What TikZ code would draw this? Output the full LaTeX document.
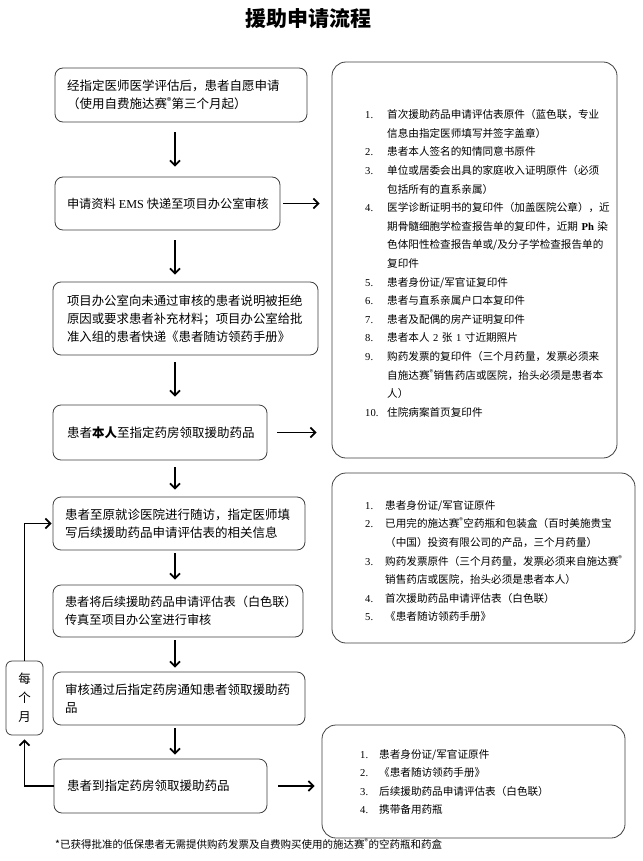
\documentclass[tikz,border=0pt]{standalone}
\usepackage{fontspec}
\setmainfont{Noto Sans CJK SC}
\newfontfamily\lat{Liberation Serif}
\usetikzlibrary{arrows.meta}
\newcommand\nm[2]{\makebox[#1][l]{\lat #2}}
\begin{document}
\begin{tikzpicture}[x=1pt,y=-1pt,
  lbox/.style={draw=black!75, line width=0.8pt, rounded corners=8pt, align=left,
    font=\fontsize{12.5}{18}\selectfont, inner ysep=0pt},
  rbox/.style={draw=black!75, line width=0.8pt, rounded corners=14pt, inner sep=0pt},
  itemlist/.style={anchor=west, align=left, inner sep=0pt, text width=262pt,
    font=\fontsize{10.6}{18.6}\selectfont},
  arr/.style={line width=1.7pt, line join=miter, -{Straight Barb[length=5pt,width=10pt]}},
]
\fill[white] (0,0) rectangle (642,861);
\useasboundingbox (0,0) rectangle (642,861);

\node[font=\fontsize{21}{24}\selectfont\bfseries] (title) at (308.5,19) {援助申请流程};

% left column
\node[lbox, text width=228pt, inner xsep=12pt, minimum height=54pt] (b1) at (181,95)
  {经指定医师医学评估后，患者自愿申请\\（使用自费施达赛\textsuperscript{®}第三个月起）};
\node[lbox, text width=201pt, inner xsep=12pt, minimum height=53pt, font=\fontsize{12.2}{18}\selectfont] (b2) at (167.5,203.5)
  {\mbox{申请资料\hspace{3pt}{\lat EMS}\hspace{3pt}快递至项目办公室审核}};
\node[lbox, text width=237pt, inner xsep=14pt, minimum height=73pt, font=\fontsize{12.4}{18}\selectfont] (b3) at (185.5,318.5)
  {项目办公室向未通过审核的患者说明被拒绝\\原因或要求患者补充材料；项目办公室给批\\准入组的患者快递《患者随访领药手册》};
\node[lbox, text width=186pt, inner xsep=14pt, minimum height=55pt] (b4) at (160,432.5)
  {患者{\bfseries 本人}至指定药房领取援助药品};
\node[lbox, text width=228pt, inner xsep=12pt, minimum height=53pt] (b5) at (179,523.5)
  {患者至原就诊医院进行随访，指定医师填\\写后续援助药品申请评估表的相关信息};
\node[lbox, text width=226pt, inner xsep=12pt, minimum height=52pt, font=\fontsize{12.2}{18}\selectfont] (b6) at (178,611)
  {患者将后续援助药品申请评估表（白色联）\\传真至项目办公室进行审核};
\node[lbox, text width=228pt, inner xsep=12pt, minimum height=53pt] (b7) at (179,698.5)
  {审核通过后指定药房通知患者领取援助药\\品};
\node[lbox, text width=187pt, inner xsep=13pt, minimum height=54pt] (b8) at (160.5,786)
  {患者到指定药房领取援助药品};
\node[draw=black!75, line width=0.8pt, rounded corners=6pt, align=center, inner sep=0pt,
  minimum width=37pt, minimum height=74pt, font=\fontsize{12.5}{19}\selectfont] (mb) at (24.5,698)
  {每\\个\\月};

% right column
\node[rbox, minimum width=285pt, minimum height=396pt] (r1) at (474.5,260) {};
\node[rbox, minimum width=303pt, minimum height=170pt] (r2) at (483.5,558) {};
\node[rbox, minimum width=303pt, minimum height=113pt] (r3) at (473.5,781.5) {};

\node[itemlist] (l1) at (365,263.5) {%
\nm{22pt}{1.}首次援助药品申请评估表原件（蓝色联，专业\\
\hspace*{22pt}信息由指定医师填写并签字盖章）\\
\nm{22pt}{2.}患者本人签名的知情同意书原件\\
\nm{22pt}{3.}单位或居委会出具的家庭收入证明原件（必须\\
\hspace*{22pt}包括所有的直系亲属）\\
\nm{22pt}{4.}医学诊断证明书的复印件（加盖医院公章），近\\
\hspace*{22pt}期骨髓细胞学检查报告单的复印件，近期 {\lat\bfseries Ph} 染\\
\hspace*{22pt}色体阳性检查报告单或/及分子学检查报告单的\\
\hspace*{22pt}复印件\\
\nm{22pt}{5.}患者身份证/军官证复印件\\
\nm{22pt}{6.}患者与直系亲属户口本复印件\\
\nm{22pt}{7.}患者及配偶的房产证明复印件\\
\nm{22pt}{8.}患者本人 {\lat 2} 张 {\lat 1} 寸近期照片\\
\nm{22pt}{9.}购药发票的复印件（三个月药量，发票必须来\\
\hspace*{22pt}自施达赛\textsuperscript{®}销售药店或医院，抬头必须是患者本\\
\hspace*{22pt}人）\\
\nm{22pt}{10.}住院病案首页复印件};

\node[itemlist] (l2) at (365,561) {%
\nm{20pt}{1.}患者身份证/军官证原件\\
\nm{20pt}{2.}已用完的施达赛\textsuperscript{®}空药瓶和包装盒（百时美施贵宝\\
\hspace*{20pt}（中国）投资有限公司的产品，三个月药量）\\
\nm{20pt}{3.}购药发票原件（三个月药量，发票必须来自施达赛\textsuperscript{®}\\
\hspace*{20pt}销售药店或医院，抬头必须是患者本人）\\
\nm{20pt}{4.}首次援助药品申请评估表（白色联）\\
\nm{20pt}{5.}《患者随访领药手册》};

\node[itemlist] (l3) at (360,782) {%
\nm{19pt}{1.}患者身份证/军官证原件\\
\nm{19pt}{2.}《患者随访领药手册》\\
\nm{19pt}{3.}后续援助药品申请评估表（白色联）\\
\nm{19pt}{4.}携带备用药瓶};

\node[anchor=west, inner sep=0pt, font=\fontsize{10.5}{12}\selectfont] (fn) at (55,844)
  {*已获得批准的低保患者无需提供购药发票及自费购买使用的施达赛\textsuperscript{®}的空药瓶和药盒};

% connectors
\coordinate (ax) at (175,0);
\draw[arr, shorten <=10pt, shorten >=10pt] (b1.south -| ax) -- (b2.north -| ax);
\draw[arr, shorten <=10pt, shorten >=7pt] (b2.south -| ax) -- (b3.north -| ax);
\draw[arr, shorten <=7pt, shorten >=8pt] (b3.south -| ax) -- (b4.north -| ax);
\draw[arr, shorten <=7pt, shorten >=7pt] (b4.south -| ax) -- (b5.north -| ax);
\draw[arr, shorten <=3pt, shorten >=5pt] (b5.south -| ax) -- (b6.north -| ax);
\draw[arr, shorten <=3pt, shorten >=4pt] (b6.south -| ax) -- (b7.north -| ax);
\draw[arr, shorten <=3pt, shorten >=4pt] (b7.south -| ax) -- (b8.north -| ax);

\draw[arr, shorten <=3pt, shorten >=12pt] (b2.east) -- (b2.east -| r1.west);
\draw[arr, shorten <=10pt, shorten >=15pt] (b4.east) -- (b4.east -| r1.west);
\draw[arr, shorten <=11pt, shorten >=7pt] (b8.east) -- (b8.east -| r3.west);

\draw[arr, shorten >=4pt] (b8.west) -| (mb.south);
\draw[arr, shorten >=1pt] (mb.north) |- (b5.west);
\end{tikzpicture}
\end{document}
